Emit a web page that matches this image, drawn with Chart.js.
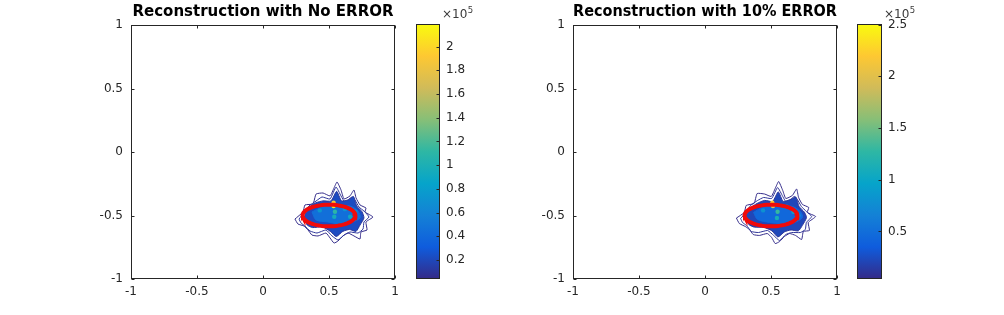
<!DOCTYPE html>
<html>
<head>
<meta charset="utf-8">
<script src="https://cdn.jsdelivr.net/npm/chart.js@4/dist/chart.umd.min.js"></script>
<style>
  html, body { margin: 0; padding: 0; background: #fff; }
  #wrap { position: relative; width: 1004px; height: 315px; overflow: hidden; }
  canvas { position: absolute; top: 0; }
</style>
</head>
<body>
<div id="wrap">
  <canvas id="mainA" width="410" height="315" style="left:0px"></canvas>
  <canvas id="cbarA" width="90" height="315" style="left:400px"></canvas>
  <canvas id="mainB" width="410" height="315" style="left:442px"></canvas>
  <canvas id="cbarB" width="110" height="315" style="left:841px"></canvas>
</div>
<script>
// --- data ---
const titles = ['Reconstruction with No ERROR', 'Reconstruction with 10% ERROR'];
const xTicks = [-1, -0.5, 0, 0.5, 1];
const yTicks = [-1, -0.5, 0, 0.5, 1];
const cbTicksA = [0.2, 0.4, 0.6, 0.8, 1, 1.2, 1.4, 1.6, 1.8, 2];
const cbTicksB = [0.5, 1, 1.5, 2, 2.5];
const cbRangeA = [0.04, 2.19];   // x10^5
const cbRangeB = [0.04, 2.505];  // x10^5
const ellipseCenter = [0.5, -0.5];
const ellipseRadii = [0.2, 0.085];

// contour levels (x10^5) used for line / fill colours
const levelOuter = 0.05, levelSecond = 0.1, levelCore = 0.22, levelInner = 0.45;

const outerA = [[0.242,-0.528],[0.303,-0.472],[0.318,-0.417],[0.379,-0.409],[0.402,-0.331],[0.455,-0.323],
  [0.508,-0.346],[0.538,-0.283],[0.561,-0.236],[0.591,-0.299],[0.614,-0.370],[0.659,-0.346],[0.689,-0.299],
  [0.705,-0.362],[0.735,-0.417],[0.780,-0.441],[0.773,-0.472],[0.833,-0.512],[0.780,-0.551],[0.788,-0.614],
  [0.742,-0.630],[0.735,-0.685],[0.689,-0.661],[0.644,-0.638],[0.606,-0.661],[0.568,-0.701],[0.538,-0.717],
  [0.508,-0.677],[0.477,-0.638],[0.417,-0.661],[0.371,-0.654],[0.341,-0.614],[0.311,-0.583],[0.265,-0.567]];
const secondA = [[0.273,-0.528],[0.318,-0.465],[0.348,-0.425],[0.402,-0.386],[0.447,-0.354],[0.508,-0.370],
  [0.553,-0.276],[0.591,-0.346],[0.621,-0.394],[0.674,-0.354],[0.697,-0.378],[0.727,-0.433],[0.765,-0.465],
  [0.803,-0.512],[0.765,-0.551],[0.758,-0.606],[0.720,-0.638],[0.659,-0.630],[0.614,-0.654],[0.568,-0.693],
  [0.523,-0.661],[0.477,-0.614],[0.409,-0.638],[0.356,-0.622],[0.318,-0.583],[0.288,-0.559]];
const coreA = [[0.310,-0.515],[0.345,-0.440],[0.400,-0.400],[0.455,-0.385],[0.515,-0.385],[0.558,-0.310],
  [0.595,-0.385],[0.650,-0.375],[0.685,-0.350],[0.710,-0.425],[0.750,-0.470],[0.765,-0.520],[0.735,-0.575],
  [0.705,-0.625],[0.655,-0.610],[0.605,-0.625],[0.555,-0.665],[0.510,-0.625],[0.450,-0.590],[0.375,-0.595],
  [0.335,-0.575]];
const innerA = [[0.371,-0.472],[0.447,-0.433],[0.523,-0.402],[0.583,-0.425],[0.659,-0.425],[0.720,-0.465],
  [0.735,-0.520],[0.674,-0.551],[0.583,-0.567],[0.492,-0.551],[0.402,-0.535]];
const spotsA = [[0.535,-0.40,1.9],[0.535,-0.425,2.1],[0.545,-0.47,1.1],[0.54,-0.51,0.95],
  [0.66,-0.51,0.9],[0.43,-0.46,0.75],[0.62,-0.45,0.7],[0.70,-0.47,0.65]];

const outerB = [[0.238,-0.520],[0.298,-0.476],[0.312,-0.421],[0.372,-0.405],[0.395,-0.327],[0.452,-0.331],
  [0.502,-0.350],[0.532,-0.287],[0.558,-0.232],[0.589,-0.303],[0.612,-0.366],[0.662,-0.342],[0.694,-0.291],
  [0.709,-0.358],[0.738,-0.413],[0.786,-0.437],[0.775,-0.476],[0.838,-0.508],[0.782,-0.555],[0.791,-0.618],
  [0.745,-0.626],[0.732,-0.689],[0.686,-0.657],[0.641,-0.642],[0.602,-0.665],[0.565,-0.705],[0.532,-0.721],
  [0.505,-0.673],[0.472,-0.642],[0.412,-0.657],[0.366,-0.650],[0.336,-0.610],[0.306,-0.587],[0.260,-0.563]];
const secondB = [[0.270,-0.524],[0.315,-0.469],[0.345,-0.421],[0.398,-0.382],[0.444,-0.358],[0.505,-0.366],
  [0.550,-0.280],[0.589,-0.350],[0.618,-0.398],[0.676,-0.350],[0.700,-0.374],[0.730,-0.429],[0.769,-0.469],
  [0.808,-0.508],[0.768,-0.555],[0.760,-0.610],[0.722,-0.634],[0.656,-0.634],[0.611,-0.650],[0.565,-0.697],
  [0.520,-0.657],[0.474,-0.618],[0.405,-0.634],[0.352,-0.626],[0.315,-0.579],[0.284,-0.555]];
const coreB = [[0.305,-0.512],[0.342,-0.444],[0.396,-0.404],[0.452,-0.381],[0.512,-0.389],[0.555,-0.314],
  [0.593,-0.389],[0.653,-0.371],[0.688,-0.354],[0.713,-0.429],[0.753,-0.474],[0.769,-0.516],[0.737,-0.579],
  [0.707,-0.621],[0.652,-0.614],[0.602,-0.629],[0.552,-0.669],[0.507,-0.621],[0.447,-0.594],[0.372,-0.591],
  [0.332,-0.571]];
const innerB = [[0.368,-0.476],[0.444,-0.429],[0.520,-0.398],[0.580,-0.421],[0.662,-0.429],[0.723,-0.469],
  [0.738,-0.516],[0.676,-0.555],[0.580,-0.563],[0.490,-0.555],[0.398,-0.531]];
const spotsB = [[0.51,-0.40,2.2],[0.515,-0.425,2.0],[0.55,-0.47,1.3],[0.545,-0.52,1.1],
  [0.67,-0.47,1.0],[0.44,-0.46,0.8],[0.62,-0.43,0.85],[0.71,-0.50,0.7]];

// --- parula colour map ---
const parulaStops = ['#352a87','#0f5cdd','#1481d6','#06a4ca','#2eb7a4','#87bf77','#d1bb59','#fec832','#f9fb0e'];
function hexRgb(h) { return [1,3,5].map(i => parseInt(h.substr(i,2),16)); }
function parula(t) {
  t = Math.max(0, Math.min(1, t));
  const f = t * (parulaStops.length - 1), i = Math.min(Math.floor(f), parulaStops.length - 2), r = f - i;
  const a = hexRgb(parulaStops[i]), b = hexRgb(parulaStops[i + 1]);
  return 'rgb(' + a.map((v, k) => Math.round(v + (b[k] - v) * r)).join(',') + ')';
}

const ink = '#262626';
Chart.defaults.font.family = 'DejaVu Sans';
Chart.defaults.color = ink;
Chart.defaults.animation = false;

function closed(arr) { return arr.concat([arr[0]]).map(p => ({x: p[0], y: p[1]})); }
function ellipsePts() {
  const pts = [];
  for (let i = 0; i <= 72; i++) {
    const a = i / 72 * 2 * Math.PI;
    pts.push({x: ellipseCenter[0] + ellipseRadii[0] * Math.cos(a), y: ellipseCenter[1] + ellipseRadii[1] * Math.sin(a)});
  }
  return pts;
}

// box + inward ticks, MATLAB style
const boxTicks = {
  id: 'boxTicks',
  afterDraw(chart) {
    const {ctx, chartArea: a, scales} = chart;
    const L = Math.round(a.left) + 0.5, R = Math.round(a.right) - 0.5;
    const T = Math.round(a.top) + 0.5, B = Math.round(a.bottom) - 0.5;
    ctx.save();
    ctx.strokeStyle = ink; ctx.lineWidth = 1;
    ctx.strokeRect(L, T, R - L, B - T);
    ctx.beginPath();
    if (chart.config.type === 'bar') {
      scales.y.ticks.forEach(t => {
        const py = Math.round(scales.y.getPixelForValue(t.value)) + 0.5;
        ctx.moveTo(R, py); ctx.lineTo(R - 3, py);
      });
    } else {
      scales.x.ticks.forEach(t => {
        const px = Math.round(scales.x.getPixelForValue(t.value)) + 0.5;
        ctx.moveTo(px, B); ctx.lineTo(px, B - 3);
        ctx.moveTo(px, T); ctx.lineTo(px, T + 3);
      });
      scales.y.ticks.forEach(t => {
        const py = Math.round(scales.y.getPixelForValue(t.value)) + 0.5;
        ctx.moveTo(L, py); ctx.lineTo(L + 3, py);
        ctx.moveTo(R, py); ctx.lineTo(R - 3, py);
      });
    }
    ctx.stroke();
    ctx.restore();
  }
};

// x10^5 exponent label above the colour bar
const expLabel = {
  id: 'expLabel',
  afterDraw(chart) {
    const {ctx, chartArea: a} = chart;
    ctx.save();
    ctx.fillStyle = '#3a3a3a';
    ctx.textBaseline = 'alphabetic';
    ctx.font = '12px "DejaVu Sans"';
    const x0 = a.right + 2;
    ctx.fillText('\u00d710', x0, 18);
    const w = ctx.measureText('\u00d710').width;
    ctx.font = '8.5px "DejaVu Sans"';
    ctx.fillText('5', x0 + w + 0.5, 13);
    ctx.restore();
  }
};

function makeMain(id, title, outer, second, core, inner, spots, range) {
  const span = range[1] - range[0];
  const col = v => parula((v - range[0]) / span);
  new Chart(document.getElementById(id), {
    type: 'scatter',
    data: {
      datasets: [{
        data: ellipsePts(), showLine: true, borderColor: '#f00a0a', borderWidth: 4,
        pointRadius: 0, fill: false, order: 0
      }, {
        data: spots.map(p => ({x: p[0], y: p[1]})), pointRadius: 2.2, pointBorderWidth: 0,
        pointBackgroundColor: spots.map(p => col(p[2])), order: 1
      }, {
        data: closed(inner), showLine: true, borderColor: col(levelInner), borderWidth: 1,
        backgroundColor: col(levelInner), pointRadius: 0, fill: 'shape', tension: 0.3, order: 2
      }, {
        data: closed(core), showLine: true, borderColor: col(levelSecond), borderWidth: 1,
        backgroundColor: col(levelCore), pointRadius: 0, fill: 'shape', tension: 0.2, order: 3
      }, {
        data: closed(second), showLine: true, borderColor: col(levelSecond), borderWidth: 1,
        pointRadius: 0, fill: false, tension: 0.15, order: 4
      }, {
        data: closed(outer), showLine: true, borderColor: col(levelOuter), borderWidth: 1,
        pointRadius: 0, fill: false, tension: 0.15, order: 5
      }]
    },
    options: {
      responsive: false,
      layout: { padding: { left: 0, right: 15, top: 0, bottom: 0 } },
      plugins: {
        legend: { display: false },
        tooltip: { enabled: false },
        title: {
          display: true, text: title, fullSize: false, color: '#000',
          font: { size: 15, weight: 'bold', lineHeight: '17px' },
          padding: { top: 4, bottom: 4 }
        }
      },
      scales: {
        x: {
          type: 'linear', min: -1, max: 1,
          grid: { display: false, drawTicks: false }, border: { display: false },
          ticks: { font: { size: 12 }, padding: 6, maxRotation: 0, callback: v => String(v) },
          afterBuildTicks: s => { s.ticks = xTicks.map(v => ({value: v})); },
          afterFit: s => { s.height = 36; s.paddingLeft = 0; s.paddingRight = 0; }
        },
        y: {
          type: 'linear', min: -1, max: 1,
          grid: { display: false, drawTicks: false }, border: { display: false },
          ticks: { font: { size: 12 }, padding: 8, callback: v => String(v) },
          afterBuildTicks: s => { s.ticks = yTicks.map(v => ({value: v})); },
          afterFit: s => { s.width = 131; s.paddingTop = 0; s.paddingBottom = 0; }
        }
      }
    },
    plugins: [boxTicks]
  });
}

function makeBar(id, range, ticks, barW) {
  new Chart(document.getElementById(id), {
    type: 'bar',
    data: {
      labels: [''],
      datasets: [{
        data: [range],
        barPercentage: 1, categoryPercentage: 1, borderWidth: 0, borderSkipped: false,
        backgroundColor: c => {
          const a = c.chart.chartArea;
          if (!a) return parulaStops[0];
          const g = c.chart.ctx.createLinearGradient(0, a.bottom, 0, a.top);
          parulaStops.forEach((s, i) => g.addColorStop(i / (parulaStops.length - 1), s));
          return g;
        }
      }]
    },
    options: {
      responsive: false,
      layout: { padding: { left: 16, right: 0, top: 24, bottom: 36 } },
      plugins: { legend: { display: false }, tooltip: { enabled: false } },
      scales: {
        x: { display: false },
        y: {
          position: 'right', min: range[0], max: range[1],
          grid: { display: false, drawTicks: false }, border: { display: false },
          ticks: { font: { size: 12 }, padding: 6, callback: v => String(v) },
          afterBuildTicks: s => { s.ticks = ticks.map(v => ({value: v})); },
          afterFit: s => { s.width = s.chart.width - 16 - barW; s.paddingTop = 0; s.paddingBottom = 0; }
        }
      }
    },
    plugins: [boxTicks, expLabel]
  });
}

makeMain('mainA', titles[0], outerA, secondA, coreA, innerA, spotsA, cbRangeA);
makeBar('cbarA', cbRangeA, cbTicksA, 24);
makeMain('mainB', titles[1], outerB, secondB, coreB, innerB, spotsB, cbRangeB);
makeBar('cbarB', cbRangeB, cbTicksB, 25);
</script>
</body>
</html>
